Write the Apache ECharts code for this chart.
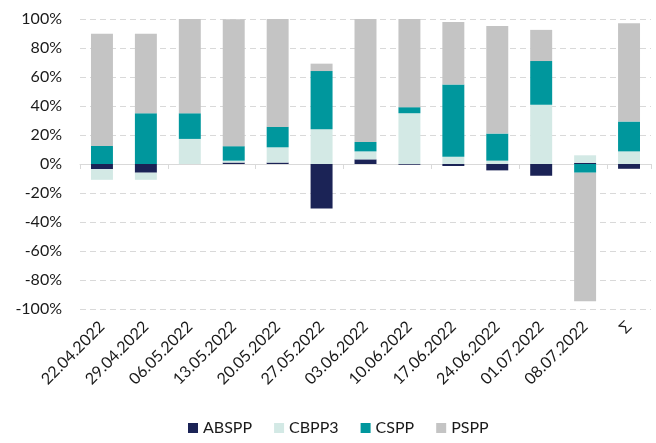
<!DOCTYPE html>
<html>
<head>
<meta charset="utf-8">
<script src="https://cdn.jsdelivr.net/npm/echarts@6/dist/echarts.min.js"></script>
<style>html,body{margin:0;padding:0;background:#fff}#c{width:656px;height:443px}</style>
</head>
<body>
<div id="c"></div>
<script>
const categories = ['22.04.2022','29.04.2022','06.05.2022','13.05.2022','20.05.2022','27.05.2022','03.06.2022','10.06.2022','17.06.2022','24.06.2022','01.07.2022','08.07.2022','Σ'];
const ABSPP = [-3.5, -6.0, 0, 1.0, 1.0, -30.7, 3.2, -0.5, -1.4, -4.4, -8.1, 0.8, -3.3];
const CBPP3 = [-7.4, -4.9, 17.3, 1.3, 10.5, 24.0, 5.5, 35.0, 5.0, 2.3, 40.8, 5.2, 8.7];
const CSPP  = [12.4, 35.0, 17.7, 10.0, 14.1, 40.1, 6.5, 4.2, 49.9, 18.7, 30.2, -6.0, 20.6];
const PSPP  = [77.5, 54.9, 65.0, 87.6, 74.4, 5.1, 84.8, 60.8, 43.1, 74.2, 21.5, -88.6, 67.8];
const yTicks = {min: -100, max: 100, interval: 20};

const FONT = 'Lato';
const TXT = '#1a1a1a';
const chart = echarts.init(document.getElementById('c'), null, {renderer: 'canvas'});
const mk = (name, data, color) => ({
  name, type: 'bar', stack: 'total', data, xAxisIndex: 0,
  barCategoryGap: '50%',
  itemStyle: {color},
  emphasis: {disabled: true}
});
chart.setOption({
  animation: false,
  textStyle: {fontFamily: FONT},
  grid: {left: 80, right: 5, top: 19, bottom: 134, containLabel: false},
  legend: {
    bottom: 2, left: 183, itemWidth: 10, itemHeight: 10, itemGap: 22,
    icon: 'rect',
    textStyle: {fontFamily: FONT, fontSize: 16, color: TXT},
    data: ['ABSPP','CBPP3','CSPP','PSPP']
  },
  xAxis: [
    {
      type: 'category', data: categories,
      axisLine: {onZero: true, lineStyle: {color: '#d9d9d9', width: 1}},
      axisTick: {show: true, length: 5, lineStyle: {color: '#d9d9d9'}},
      axisLabel: {show: false},
      splitLine: {show: false}
    },
    {
      type: 'category', data: categories, position: 'bottom',
      axisLine: {show: false}, axisTick: {show: false},
      axisLabel: {rotate: 45, margin: 15, fontFamily: FONT, fontSize: 16, color: TXT, interval: 0}
    }
  ],
  yAxis: {
    type: 'value', min: yTicks.min, max: yTicks.max, interval: yTicks.interval,
    axisLine: {show: false}, axisTick: {show: false},
    axisLabel: {formatter: v => v + '%', margin: 18, fontFamily: FONT, fontSize: 16, color: TXT},
    splitLine: {lineStyle: {color: '#d9d9d9', type: [6, 4], width: 1}}
  },
  series: [
    mk('ABSPP', ABSPP, '#1b2356'),
    mk('CBPP3', CBPP3, '#d3e9e5'),
    mk('CSPP', CSPP, '#00979d'),
    mk('PSPP', PSPP, '#c4c4c4')
  ]
});
</script>
</body>
</html>
